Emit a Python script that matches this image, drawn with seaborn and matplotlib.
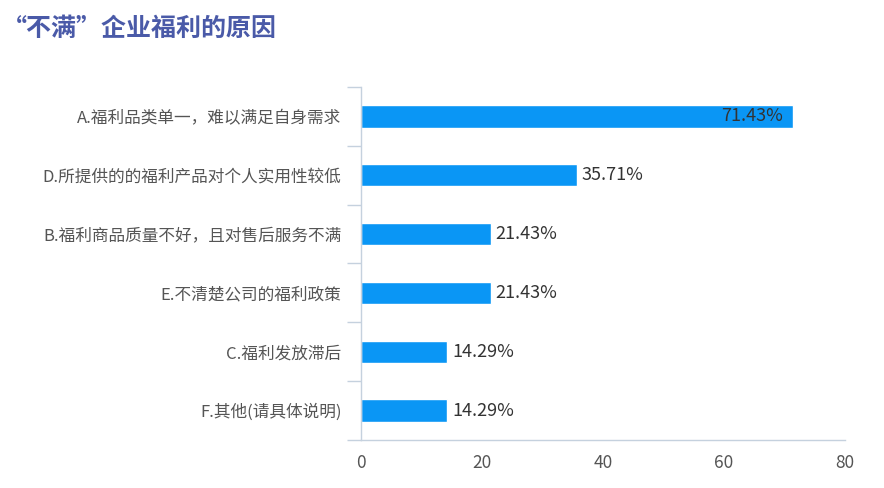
import matplotlib
matplotlib.use('Agg')
import matplotlib.pyplot as plt
import seaborn as sns
import pandas as pd
import numpy as np

# --- data ---
reasons = [
    'A.福利品类单一，难以满足自身需求',
    'D.所提供的的福利产品对个人实用性较低',
    'B.福利商品质量不好，且对售后服务不满',
    'E.不清楚公司的福利政策',
    'C.福利发放滞后',
    'F.其他(请具体说明)',
]
percents = [71.43, 35.71, 21.43, 21.43, 14.29, 14.29]
x_ticks = [0, 20, 40, 60, 80]
title = '“不满”企业福利的原因'

sns.set_style('white')
plt.rcParams['font.family'] = ['Noto Sans CJK SC', 'DejaVu Sans']

df = pd.DataFrame({'reason': reasons, 'pct': percents})

fig = plt.figure(figsize=(8.84, 4.88), dpi=100)
ax = fig.add_axes([0.4084, 0.0984, 0.5475, 0.7233])

sns.barplot(data=df, x='pct', y='reason', orient='h', color='#0A96F5',
            saturation=1, width=0.38, ax=ax)

ax.set_xlim(0, 80)
ax.set_ylim(len(reasons) - 0.5, -0.5)
ax.set_xticks(x_ticks)
ax.set_xlabel('')
ax.set_ylabel('')

# value labels
for i, v in enumerate(percents):
    if v > 60:
        ax.text(v - 1.6, i, f'{v:.2f}%', ha='right', va='center',
                fontsize=13, color='#333333')
    else:
        ax.text(v + 0.8, i, f'{v:.2f}%', ha='left', va='center',
                fontsize=13, color='#333333')

# spines
for s in ['top', 'right']:
    ax.spines[s].set_visible(False)
ax.spines['left'].set_color('#C5D1DE')
ax.spines['bottom'].set_color('#C5D1DE')
ax.spines['left'].set_linewidth(1)
ax.spines['bottom'].set_linewidth(1)

# category boundary ticks on the y axis
ax.set_yticks(np.arange(-0.5, len(reasons)), minor=True)
ax.tick_params(axis='y', which='minor', length=10, color='#C5D1DE', width=1, left=True)
ax.tick_params(axis='y', which='major', length=0, pad=14, labelsize=12,
               labelcolor='#555555')
ax.tick_params(axis='x', length=0, pad=10, labelsize=12.5, labelcolor='#555555')

fig.text(0.002, 0.94, title, fontsize=18, fontweight='bold', color='#4A5AA8',
         va='center', ha='left')

fig.savefig('out.png', dpi=100)
